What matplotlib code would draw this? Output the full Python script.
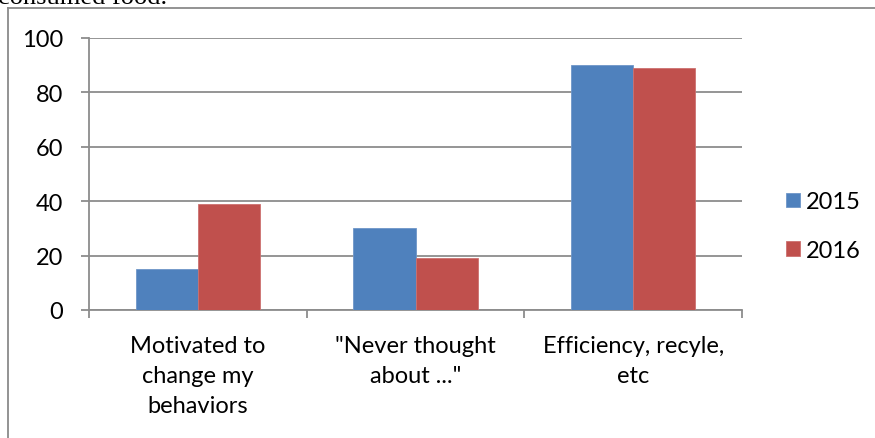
import matplotlib
matplotlib.use("Agg")
import matplotlib.pyplot as plt
import matplotlib.transforms as mtransforms
import numpy as np
from matplotlib.lines import Line2D

categories = ["Motivated to\nchange my\nbehaviors", "\"Never thought\nabout ...\"", "Efficiency, recyle,\netc"]
series_names = ["2015", "2016"]
values_2015 = [15, 30, 90]
values_2016 = [39, 19, 89]
yticks = [0, 20, 40, 60, 80, 100]
colors = ["#4F81BD", "#C0504D"]

W, H = 875, 439
DPI = 100
fig = plt.figure(figsize=(W / DPI, H / DPI), dpi=DPI)
plt.rcParams['font.family'] = ['Lato', 'DejaVu Sans']

ax = fig.add_axes([89 / W, 1 - 311 / H, (742 - 89) / W, (311 - 39) / H])

x = np.arange(len(categories))
bw = 0.285
b1 = ax.bar(x - bw / 2, values_2015, bw, color=colors[0], edgecolor="#6f96c8", linewidth=0.6, zorder=3, label=series_names[0])
b2 = ax.bar(x + bw / 2, values_2016, bw, color=colors[1], edgecolor="#cc7170", linewidth=0.6, zorder=3, label=series_names[1])

ax.set_xlim(-0.5, len(categories) - 0.5)
ax.set_ylim(0, 100)
ax.set_yticks(yticks)
ax.set_yticklabels([str(t) for t in yticks], fontsize=17)
ax.yaxis.grid(True, color="#8c8c8c", linewidth=1.3, zorder=0)
ax.set_axisbelow(True)

# category boundaries get tick marks; labels drawn line by line below
ax.set_xticks(np.arange(-0.5, len(categories)))
ax.set_xticklabels([])
ax.tick_params(axis='x', length=5.8, width=1.3, color="#8c8c8c", direction='out')
ax.tick_params(axis='y', length=5.8, width=1.3, color="#8c8c8c", pad=13)

line_step_px = 30
first_base_px = 42
for xi, lab in zip(x, categories):
    for j, line in enumerate(lab.split("\n")):
        tr = mtransforms.offset_copy(ax.get_xaxis_transform(), fig=fig,
                                     y=-(first_base_px + j * line_step_px) * 72 / DPI, units='points')
        ax.text(xi, 0, line, transform=tr, ha="center", va="baseline", fontsize=17, clip_on=False)

for s in ["top", "right"]:
    ax.spines[s].set_visible(False)
for s in ["left", "bottom"]:
    ax.spines[s].set_color("#8c8c8c")
    ax.spines[s].set_linewidth(1.3)

leg = fig.legend(handles=[b1, b2], labels=series_names, loc="center left",
                 bbox_to_anchor=(786 / W, 1 - 227 / H), frameon=False, fontsize=17,
                 handlelength=0.58, handleheight=0.58, handletextpad=0.28, labelspacing=1.15,
                 borderpad=0, borderaxespad=0)

# chart frame (left & top border)
fig.add_artist(Line2D([8 / W, 8 / W], [0, 1 - 9 / H], color="#8a8a8a", linewidth=1.3, transform=fig.transFigure))
fig.add_artist(Line2D([8 / W, 1], [1 - 9 / H, 1 - 9 / H], color="#8a8a8a", linewidth=1.3, transform=fig.transFigure))

# clipped text from surrounding document
fig.text(-2 / W, 1 - 4 / H, "consumed food.", fontsize=19, family=["Liberation Serif", "DejaVu Serif"], va="baseline", ha="left")

fig.savefig("out.png", dpi=DPI)
